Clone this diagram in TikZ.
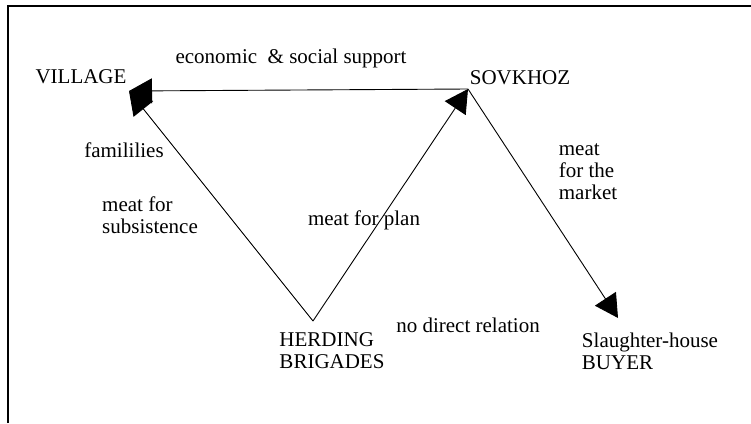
\documentclass[tikz,border=0pt]{standalone}
\usepackage{fontspec}
\setmainfont{Liberation Serif}
\usetikzlibrary{arrows.meta}
\tikzset{
  lbl/.style={font=\fontsize{21}{22}\selectfont, align=left, inner sep=0pt},
  flow/.style={-{Triangle[length=23pt,width=25pt]}, line width=0.9pt},
  frameline/.style={line width=2.8pt}
}
\begin{document}
\begin{tikzpicture}[x=1pt,y=-1pt]
  \useasboundingbox (0,0) rectangle (751,423);
  % frame (top and left only)
  \draw[frameline] (8,423) -- (8,6) -- (751,6);

  % actors
  \node[lbl] (village) at (81,77) {VILLAGE};
  \node[lbl] (sovkhoz) at (520,78) {SOVKHOZ};
  \node[lbl] (herding) at (332,351) {HERDING\\BRIGADES};
  \node[lbl] (buyer) at (650,351) {Slaughter-house\\BUYER};

  % connection points
  \coordinate (villagept) at (129,91);
  \coordinate (sovkhozpt) at (468,89);
  \coordinate (herdingpt) at (313,321);
  \coordinate (buyerpt) at (618,318);

  % flows
  \draw[flow] (sovkhozpt) -- (villagept);
  \draw[flow] (herdingpt) -- (villagept);
  \draw[flow] (herdingpt) -- (sovkhozpt);
  \draw[flow] (sovkhozpt) -- (buyerpt);

  % flow labels
  \node[lbl] (support) at (291,58) {economic~~\& social support};
  \node[lbl] (families) at (124,150) {famililies};
  \node[lbl] (subsist) at (150,215) {meat for\\subsistence};
  \node[lbl] (plan) at (364,220) {meat for plan};
  \node[lbl] (market) at (588,172) {meat\\for the\\market};
  \node[lbl] (norel) at (468,325) {no direct relation};
\end{tikzpicture}
\end{document}
